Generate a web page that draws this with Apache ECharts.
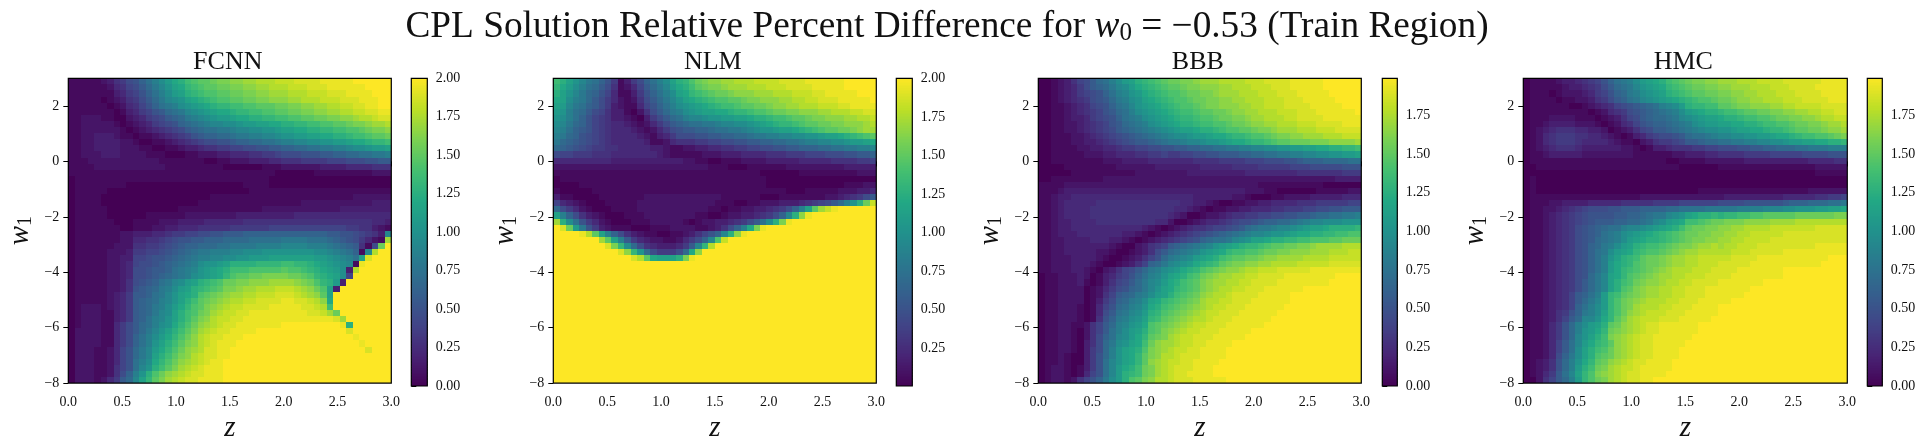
<!DOCTYPE html>
<html><head><meta charset="utf-8">
<style>html,body{margin:0;padding:0;background:#fff}#c{width:1926px;height:448px}</style>
<script src="https://cdn.jsdelivr.net/npm/echarts@6/dist/echarts.min.js"></script>
</head><body><div id="c"></div>
<script>
// Each character is one read-off cell: 0-9a-z maps to 0..2 in steps of 2/35. Row 0 is the top of the panel.
const panelNames = ['FCNN', 'NLM', 'BBB', 'HMC'];
const zTicks = [0, 0.5, 1, 1.5, 2, 2.5, 3];
const w1Ticks = [-8, -6, -4, -2, 0, 2];
const cbTicksA = [0, 0.25, 0.5, 0.75, 1, 1.25, 1.5, 1.75, 2];
const cbTicksB = [0.25, 0.5, 0.75, 1, 1.25, 1.5, 1.75, 2];
const cbTicksC = [0, 0.25, 0.5, 0.75, 1, 1.25, 1.5, 1.75];
const cbRanges = [[0, 2], [0.004, 2], [0, 1.99], [0, 1.99]];

const fcnnRows = [
"1111123568 9bdfhjlmop qqrssttuuv vvwwwxxxxy yyyyzzzzzz",
"1111112457 8acegiklno pqqrrssttu uvvvwwwxxx yyyyyyzzzz",
"1111111346 79bdfhjkmn oppqqrrsst tuuuvvvwww xxxyyyyzzz",
"1111101235 68aceghikl mnoppqqrrs stttuuvvvw wwxxxyyyzz",
"1111110124 579bdefhij klmnnooppq qqrrssttuu vvwwxxyyzz",
"1111111013 4679acdegh ijkllmnnoo ppqqrrsstt uuvvwwxxyy",
"1122211002 34678abcef ghijjkllmm nnooppqqrr ssttuvvwxx",
"1122222101 2346789bcd efgghhijjk kllmmnnoop pqqrsstuuv",
"1122222210 12345678ab cddeefgghh iijkkllmmn nooppqrsst",
"1122333211 0112345679 abbccdeeff gghiijjkkl lmmnoopqqr",
"1122333322 1001123456 78899abbcc ddeffgghhi ijjkllmnno",
"1122333322 2110011233 4556677889 9aabbccdde effghhijjk",
"1122233322 2211100011 2223344455 667888999a abbccddeef",
"1112222222 2222111111 1001122233 3445556666 77788899aa",
"1111222222 2222211111 1111000000 1112222223 3334444555",
"1111111111 1111111111 1111111111 1100000011 1111111222",
"0111111111 1111111111 1111111111 1000000000 0000000000",
"0111111110 0000000000 0000000111 1000000000 0000000000",
"0111110000 0000000000 0000000011 1111111111 1111111111",
"0111100000 0000000000 0011111111 1111111111 1111222222",
"0111100000 0000000000 1111111111 1111112222 2222222333",
"0111110000 0000000111 1111111111 2222222222 2233333333",
"0111110000 0011111122 2222223333 3333344444 4444444444",
"0111111000 1111222333 3444444555 5555555555 5555555443",
"0111111100 1112233444 5555566666 6777777777 7776655321",
"0111111122 3334456677 8899aaabbb bbbbbbbbbb aa9987653g",
"0111111122 445567899a abbbccccdd dddeeeeddd cba986421u",
"0111111222 5566789abb cccddeeeef fffggggfff edcba518rz",
"0111112223 667789abcd eefffgghhh iiiiiiiihh gfedb1gvzz",
"0111112233 77899abcde ffgghhiijj jkkkkkkkjj ihgfdkxzzz",
"0111112234 7889abcdef hiijkmmmmn nnnoonnmlk jihg1yzzzz",
"0111112234 889aabdefg ijklmooopp pppqpponml kjh3vzzzzz",
"0111112234 889abcdefh ijklnpqqrr ssssrrqpnm lkh7zzzzzz",
"0111112235 89abdeghjk mnoprrsstt tuuuutsrpn mj3zzzzzzz",
"0111112235 9abcefhjkm nopqsstuuv vvwwwvutrp k3zzzzzzzz",
"0111112346 aabdegiklm pqrstuuvvw wwxxxwvutq kzzzzzzzzz",
"0111112346 abcdfgikmo qrstuvvwwx xxxyyxxwvt lzzzzzzzzz",
"0122212346 abcefhjlnp qstuvwwxxx xyyyyyxxwv ozzzzzzzzz",
"0122211346 abceghkmop rsuvwwxxyy yyyyyyyxxw urzzzzzzzz",
"0122211346 abdfgikmoq stvwwxxyyy yyyyyyyyyy yxuzzzzzzz",
"0122211468 acdfhilnpr tuvwxxyyyy yyyzzzzzzz zzymzzzzzz",
"0222211468 acegikmoqs uvwxxyyyyz zzzzzzzzzz zzzxzzzzzz",
"0222211468 bdfhjlnprt vwxxyyyzzz zzzzzzzzzz zzzzyzzzzz",
"0222211468 bdfikmoqst vwxyyyzzzz zzzzzzzzzz zzzzzyzzzz",
"0222112479 cegjlnprtu vxxyyzzzzz zzzzzzzzzz zzzzzzxzzz",
"0222112479 cegkmoqstv wxxyyzzzzz zzzzzzzzzz zzzzzzzzzz",
"0222112479 dfhlnprtuv wxyyzzzzzz zzzzzzzzzz zzzzzzzzzz",
"0222112579 dgimoqsuvw xyyyzzzzzz zzzzzzzzzz zzzzzzzzzz",
"022211258b fimprtuvwx xyyyzzzzzz zzzzzzzzzz zzzzzzzzzz",
"02221246ac gknqsuvwxx yyyyzzzzzz zzzzzzzzzz zzzzzzzzzz"
];

const nlmRows = [
"omkigedb96 1368bdfhkm nprsttuuvv vwwwwxxxxy yyyyyzzzzz",
"nljhfdca85 1247acegjl moqrsstuuu vvvwwwxxxx yyyyyzzzzz",
"mkigecb974 11369bdfhk lnopqrrstt tuuuvvvwww xxyyyyyzzz",
"lkhfeca864 21258acegi klmnoppqqr sstttuuvvw wxxxyyyyyz",
"kjgedba863 211479bdfh ijklmnoopq qrrsttuuvv vwwwxxyyyy",
"jifdca8753 310258acef hijkkllmnn oppqrrsstt tuuvvvwwxx",
"ihfdb97653 3210368acd fgghiijjkk lmmnoopqqr sstttuuvvw",
"hgecb97654 43212468ab cddeefgghh ijklmnnopq qrrsstttuv",
"gfdba97654 4432124689 aabbcddeef ghiijkklmn opqqrrstuu",
"fecb987654 4443213468 8899aabbcc deeffgghhi ijkklmnopq",
"ecba987654 4444311245 5566778899 aabbccddef fgghhijjkl",
"cba9876655 4444433211 2233445566 778899aabb bccddeeffg",
"8776665554 4444443211 1112223334 4445556667 7788899aab",
"4444444443 3333333333 2211001112 2223333344 4445555667",
"2222222222 2222222222 2222111000 1111112222 2222233333",
"1111111111 1111111111 1111111111 1100000011 1111111222",
"0111111111 1111111111 1111111111 1110000000 0000000000",
"0000111111 1111111111 1111111111 1110000000 0000011122",
"1000001111 1111111111 1111111111 1111110001 1111222334",
"3110000111 1111222222 2222221111 1100011111 112234568a",
"7432100011 1112222222 2222211100 1122233345 678acfimrw",
"c864210001 1112222222 2222110112 2334568bfk quwyzzzzzz",
"kfb8532100 0111222222 2211001223 34568bgmty zzzzzzzzzz",
"umhd964210 0011122222 1012233456 8adhmsyzzz zzzzzzzzzz",
"zxrje96321 1100011122 22112358bf lsyzzzzzzz zzzzzzzzzz",
"zzzzyvqkfb 8532110011 23579bgmty zzzzzzzzzz zzzzzzzzzz",
"zzzzzzzuqk fa64322112 468bgpwzzz zzzzzzzzzz zzzzzzzzzz",
"zzzzzzzzxs nhc8543334 6agnvzzzzz zzzzzzzzzz zzzzzzzzzz",
"zzzzzzzzzz xtnic86668 cltzzzzzzz zzzzzzzzzz zzzzzzzzzz",
"zzzzzzzzzz zzxvqlkkkm syzzzzzzzz zzzzzzzzzz zzzzzzzzzz",
"zzzzzzzzzz zzzzzzzzzz zzzzzzzzzz zzzzzzzzzz zzzzzzzzzz",
"zzzzzzzzzz zzzzzzzzzz zzzzzzzzzz zzzzzzzzzz zzzzzzzzzz",
"zzzzzzzzzz zzzzzzzzzz zzzzzzzzzz zzzzzzzzzz zzzzzzzzzz",
"zzzzzzzzzz zzzzzzzzzz zzzzzzzzzz zzzzzzzzzz zzzzzzzzzz",
"zzzzzzzzzz zzzzzzzzzz zzzzzzzzzz zzzzzzzzzz zzzzzzzzzz",
"zzzzzzzzzz zzzzzzzzzz zzzzzzzzzz zzzzzzzzzz zzzzzzzzzz",
"zzzzzzzzzz zzzzzzzzzz zzzzzzzzzz zzzzzzzzzz zzzzzzzzzz",
"zzzzzzzzzz zzzzzzzzzz zzzzzzzzzz zzzzzzzzzz zzzzzzzzzz",
"zzzzzzzzzz zzzzzzzzzz zzzzzzzzzz zzzzzzzzzz zzzzzzzzzz",
"zzzzzzzzzz zzzzzzzzzz zzzzzzzzzz zzzzzzzzzz zzzzzzzzzz",
"zzzzzzzzzz zzzzzzzzzz zzzzzzzzzz zzzzzzzzzz zzzzzzzzzz",
"zzzzzzzzzz zzzzzzzzzz zzzzzzzzzz zzzzzzzzzz zzzzzzzzzz",
"zzzzzzzzzz zzzzzzzzzz zzzzzzzzzz zzzzzzzzzz zzzzzzzzzz",
"zzzzzzzzzz zzzzzzzzzz zzzzzzzzzz zzzzzzzzzz zzzzzzzzzz",
"zzzzzzzzzz zzzzzzzzzz zzzzzzzzzz zzzzzzzzzz zzzzzzzzzz",
"zzzzzzzzzz zzzzzzzzzz zzzzzzzzzz zzzzzzzzzz zzzzzzzzzz",
"zzzzzzzzzz zzzzzzzzzz zzzzzzzzzz zzzzzzzzzz zzzzzzzzzz",
"zzzzzzzzzz zzzzzzzzzz zzzzzzzzzz zzzzzzzzzz zzzzzzzzzz",
"zzzzzzzzzz zzzzzzzzzz zzzzzzzzzz zzzzzzzzzz zzzzzzzzzz",
"zzzzzzzzzz zzzzzzzzzz zzzzzzzzzz zzzzzzzzzz zzzzzzzzzz"
];

const bbbRows = [
"00123578ac dfhjkmnopq rrsstuuuvv vvwwwxxxxy yyyyzzzzzz",
"00123468ab ceghjlmnop qqrsstttuu vvvwwwxxxy yyyyzzzzzz",
"0012346789 bdfgijlmno ppqrrsstuu uvvvwwwxxx yyyyyzzzzz",
"0012345689 acefhiklmn oppqrrsstt uuvvvwwwxx xyyyyyzzzz",
"0011234578 9bdegijklm noppqrsstt tuuvvwwwxx xxyyyyyzzz",
"0011234567 9acdfhijkl mnoopqqrrs ttuuvvvwww xxxyyyyyyz",
"0011233467 89bdefhijk lmnnoppqrr sstuuvvvww xxxxyyyyyy",
"0011223456 79acdefhij klmmnooppq rrsttuuvvv wwwxxxxyyy",
"0011223456 78abcdefgh ijkklmmnop pqqrsstuuu vvvwwwxxxx",
"0011122345 6789abcdef ghhijjkllm nnoppqrsst tuuuvvvwww",
"0011122334 56789aabcd eefgghiijk llmnnopqqr rrsssttttu",
"0011112233 4456677889 9aabbccdde effgghhiij jkkllmmnno",
"0011111222 3344455667 66778899aa abbccddeef fgghhiijjk",
"0011111111 2223333444 4444555566 6677788899 abbbccccdd",
"0000111111 1122222233 3333344444 5555666667 7788888999",
"0000011111 1111122222 2223333333 3344444444 5555555666",
"0011111111 2222222222 2222222222 2222222222 2222223333",
"1111222222 2222222222 2222222222 2222111111 1111000000",
"1112333333 3333333333 3333333333 3322211000 0001111122",
"1123344444 4444444444 4444333333 2210001122 2233333444",
"1123444445 5555555555 5544332100 1122334444 5556666677",
"1123444455 5555555555 5443210112 2334445566 6778899aaa",
"1123444455 5555555555 4320012234 5566778899 aabccddeef",
"1123344445 5555555544 2001234456 7889abbccd efgghhhiii",
"1123344444 4444443210 1234556778 9acdeefggh ijkklmmmmn",
"1123334444 4443321012 3456789abc defgghiijk llmmnnoopp",
"1122333344 4332101234 56789bcdde ghikklmmnn oopppqqrrr",
"1122333333 3210023567 abcdefgijk lmnnopqqrr sstuuuuvvv",
"1122333332 210012358a cdefgijkln ooppqrrsst ttuuuvvvww",
"1122233332 100123579c efghjklmop qqrrsttuuu uvvvvwwwww",
"1122233321 0012357bce ghijlmnoqr ssttuuvvvv wwwwwxxxxx",
"1122233210 23578acefh ijlmnpqrst tuvvwwwxxx xxyyyyyyyy",
"0112223201 34679bdfgi klmoprstuu vvwwxxxxyy yyyyyyzzzz",
"0112223101 3578aceghj lmopqstuuv vwwxxxxyyy yyyyyzzzzz",
"0112222012 4689bcegik lnopqstuvv wwxxxyyyyy yzzzzzzzzz",
"0112222012 57abcefhjk mopqrtuvvw xxxxyyyyyz zzzzzzzzzz",
"0112222013 68bcefhkln opqrsuvvww xxxyyyyyyz zzzzzzzzzz",
"0112221014 79cdfgilmo pqrstuvwwx xxyyyyyyzz zzzzzzzzzz",
"0112221014 8adeghjmnp qrstuvwwxx xyyyyyyzzz zzzzzzzzzz",
"0112221015 9befhiknoq rstuvvwxxx yyyyyyzzzz zzzzzzzzzz",
"0112211257 acfgijlpqr stuvwwxxxy yyyyyzzzzz zzzzzzzzzz",
"0112210257 adfhjkmpqs tuvwwxxxyy yyyzzzzzzz zzzzzzzzzz",
"0112210258 bdghjlnqrs uvwwxxxyyy yyzzzzzzzz zzzzzzzzzz",
"0112210358 cehiklortu uvwwxxyyyy zzzzzzzzzz zzzzzzzzzz",
"0112210368 cfiklmpstu vwwxxyyyyz zzzzzzzzzz zzzzzzzzzz",
"0112100369 cfiklnqstv vwxxxyyyyz zzzzzzzzzz zzzzzzzzzz",
"0112100369 dgiklnqtuv wwxxyyyyzz zzzzzzzzzz zzzzzzzzzz",
"0122101369 dgjlmorsuv wxxxyyyzzz zzzzzzzzzz zzzzzzzzzz",
"0122101479 dgjmnorsuv wxxyyyyzzz zzzzzzzzzz zzzzzzzzzz",
"012212579b ehjmpqstvv wxxxyyyyyz zzzzzzzzzz zzzzzzzzzz"
];

const hmcRows = [
"0111123345 679bdefhjk lmopqrsstt uuuvvvwwww xxxxxxyyyy",
"0111112334 568acdegij klnopqrrss ttuuuvvvww wxxxxyyyyy",
"0111012223 4679bcefhi jkmnopqqrr ssttuuvvvw wwxxxxyyyy",
"0111101122 3568abdegh ijklmnoppq rrsttuuvvv wwwxxxxyyy",
"0111111001 2345789abc dfghjmnnoo qqrsstttuu vvwwwwxxxx",
"0111111111 01245689ab cdefhjklmm noopqqrrss ttuuvvwwxx",
"0111222211 10123578ab ccdeghijkk lmmnooppqr rssttuvvww",
"0112333322 210124579a bbcdefhijj kkllmmnoop pqrrsstuuv",
"0123455544 3320123578 aabcdefghh iijkkllmnn opqqrrsttu",
"0124566655 4432101346 7889acddef gghhiijjkl lmnooppqrs",
"0124566654 4443211023 56678aabcc ddeeffgghh ijjkkllmmn",
"0123455543 3333322101 3345556677 88899aabbc ccddeeefff",
"0112333332 2222222111 1112233344 5555666677 7778888999",
"0111111111 1111111111 1100111122 2222333333 3333444455",
"0011111111 1111111111 1111000000 1111111111 1111122222",
"0000000000 0000000000 0000000000 0000000000 0000011111",
"0100000000 0000000000 0000000000 0000000000 0000000000",
"0100000000 0000000000 0000000000 0000000000 0000000000",
"0100000000 0000000000 0000000111 1111111111 1111222222",
"0111111111 1111111122 2222222222 2333333333 4444455667",
"0111223333 4444455555 6666777777 8888999999 abbbcccdde",
"0112234567 88899aaabb bbccddddee eeeffffggg hhiiijjkkl",
"0112345678 9999aabbcd eeghiklmmn mnnooppqqq qqrrrrrrss",
"0112345678 9aaabbccde ghjkloopqr rsssttttuu uuvvvvvvvv",
"0112345689 abcddfgghi jklmoqrrss ttuuvvvvww wwwwwxxxxx",
"0112345689 abdefhijkl mnopqrrsst tuuvvwwwww xxxxxxxxxx",
"0112345689 acdefhjklm mnopqrsstt uuvvwwwwxx xxxxxxxxxx",
"0112345689 bcefhjkmno opqrsstuuv uvvwwwxxxx xxxxxyyyyy",
"0112345689 bdehjklnop pqrstuuvvv vvwwwxxxxx yyyyyyyyyy",
"0112345689 bdfikmnoqr rstuuvvwww wwxxxxyyyy yyyyyyyzzz",
"0112345689 bdfjlmnpqr rstuuvvwww xxxxxyyyyy yyyyyyzzzz",
"0112345689 bdfjlnopqr stuvvvwwwx xxxyyyyyyy zzzzzzzzzz",
"0112345689 cegklnpqrs tuuvvwwwxx xxyyyyyyyy zzzzzzzzzz",
"011234568a cegkmoprst tuvvwwxxxx yyyyyyyzzz zzzzzzzzzz",
"011234568a cegkmpqstu uvvwwxxxyy yyyyyzzzzz zzzzzzzzzz",
"01123457ab dfjnoqrstu uvvwwxxxyy yyyyzzzzzz zzzzzzzzzz",
"01123457ac egjnprstuv vvwwxxxyyy yyzzzzzzzz zzzzzzzzzz",
"01123457bd fhjnprsuvv vwwxxxyyyy zzzzzzzzzz zzzzzzzzzz",
"01123569be fhknprtuvw wwxxxyyyyy zzzzzzzzzz zzzzzzzzzz",
"0112357acg gilnqsuvww wxxxyyyyyz zzzzzzzzzz zzzzzzzzzz",
"0112469cfh jkmqrtuvwx xyyyyyyzzz zzzzzzzzzz zzzzzzzzzz",
"0112469cfi jlnrstuvwx xyyyyyyzzz zzzzzzzzzz zzzzzzzzzz",
"0112469cgi kmostuvwxx yyyyyyzzzz zzzzzzzzzz zzzzzzzzzz",
"011247adgj lnoqtuvwxx yyyyyzzzzz zzzzzzzzzz zzzzzzzzzz",
"011247adhk moprtuvwxx yyyyzzzzzz zzzzzzzzzz zzzzzzzzzz",
"011248behk mpqrtuvwxx yyyyzzzzzz zzzzzzzzzz zzzzzzzzzz",
"012359cfil nqrtuvwxxy yyyzzzzzzz zzzzzzzzzz zzzzzzzzzz",
"012359cfjm orsuvwwxyy yyyzzzzzzz zzzzzzzzzz zzzzzzzzzz",
"01246adgkn pstuvwxxyy yyzzzzzzzz zzzzzzzzzz zzzzzzzzzz",
"00257acfjn prsuvwxxyy zzzzzzzzzz zzzzzzzzzz zzzzzzzzzz"
];

const panelRows = [fcnnRows, nlmRows, bbbRows, hmcRows];
const cbTickSets = [cbTicksA, cbTicksB, cbTicksC, cbTicksC];

const viridis = ['#440154','#482475','#414487','#355f8d','#2a788e','#21918c','#22a884','#44bf70','#7ad151','#bddf26','#fde725'];
const hex = s => [1,3,5].map(i => parseInt(s.substr(i,2),16));
function colorAt(t){
  t = Math.max(0, Math.min(1, t));
  const p = t*(viridis.length-1), i = Math.min(Math.floor(p), viridis.length-2), f = p-i;
  const a = hex(viridis[i]), b = hex(viridis[i+1]);
  return 'rgb(' + a.map((v,k)=>Math.round(v+(b[k]-v)*f)).join(',') + ')';
}

const serif = '"Liberation Serif","DejaVu Serif",serif';
const lefts = [68.3, 553.3, 1038.3, 1523.3];
const widths = [323, 323, 323, 324];
const cbLefts = [411.3, 896.3, 1382.3, 1867.3];
const cbWidths = [16, 16, 15, 15];
const gridTop = 78.3, gridHeight = 307.7;

const NX = 50, NY = 50, dz = 3/NX, dw = 11/NY;
const chars = '0123456789abcdefghijklmnopqrstuvwxyz';
function decode(rows){
  const out = [];
  rows.forEach((r,i) => {
    const s = r.replace(/ /g,'');
    for (let j=0;j<NX;j++){
      const c = chars.indexOf(s[j] || s[s.length-1]);
      out.push([j*dz, 3-(i+1)*dw, c/35*2]);
    }
  });
  return out;
}
function cellItem(params, api){
  const x0 = api.value(0), y0 = api.value(1);
  const a = api.coord([x0, y0+dw]), b = api.coord([x0+dz, y0]);
  const l = Math.round(a[0]), t = Math.round(a[1]), r = Math.round(b[0]), d = Math.round(b[1]);
  return {type:'rect', shape:{x:l,y:t,width:r-l,height:d-t}, style:{fill:colorAt(api.value(2)/2)}};
}
const grid=[], xAxis=[], yAxis=[], series=[], title=[];
title.push({
  left:947, top:9, textAlign:'center', padding:0,
  text:'{r|CPL Solution Relative Percent Difference for }{i|w}{s|0}{r| = −0.53 (Train Region)}',
  textStyle:{fontWeight:'normal',rich:{
    r:{fontFamily:serif,fontSize:37.3,fontWeight:'normal',color:'#111'},
    i:{fontFamily:serif,fontSize:37.3,fontWeight:'normal',fontStyle:'italic',color:'#111'},
    s:{fontFamily:serif,fontSize:25,fontWeight:'normal',color:'#111',padding:[12,0,0,0]}
  }}
});
panelNames.forEach((name,p) => {
  title.push({left:lefts[p]+widths[p]/2-2, top:49, textAlign:'center', padding:0, text:name,
    textStyle:{fontFamily:serif,fontSize:26,fontWeight:'normal',color:'#111'}});
  const g0 = grid.length;
  grid.push({left:lefts[p],top:gridTop,width:widths[p],height:gridHeight,show:true,borderColor:'#000',borderWidth:1.2,backgroundColor:'transparent',z:10});
  xAxis.push({gridIndex:g0,type:'value',min:0,max:3,splitLine:{show:false},axisLine:{show:false},
    name:'z',nameLocation:'middle',nameGap:29,nameTextStyle:{fontFamily:serif,fontSize:29,fontStyle:'italic',color:'#111'},
    axisTick:{show:true,length:5,lineStyle:{color:'#000',width:1},customValues:zTicks},
    axisLabel:{fontFamily:serif,fontSize:14,color:'#111',margin:12,customValues:zTicks,formatter:v=>Number(v).toFixed(1)}});
  yAxis.push({gridIndex:g0,type:'value',min:-8,max:3,splitLine:{show:false},axisLine:{show:false},
    name:'{w|w}{s|1}',nameLocation:'middle',nameGap:33,
    nameTextStyle:{rich:{w:{fontFamily:serif,fontSize:29,fontStyle:'italic',color:'#111'},s:{fontFamily:serif,fontSize:20,color:'#111',padding:[10,0,0,0]}}},
    axisTick:{show:true,length:5,lineStyle:{color:'#000',width:1},customValues:w1Ticks},
    axisLabel:{fontFamily:serif,fontSize:14,color:'#111',margin:9,customValues:w1Ticks,formatter:v=>String(v).replace('-','−')}});
  series.push({type:'custom',coordinateSystem:'cartesian2d',xAxisIndex:g0,yAxisIndex:g0,z:2,
    progressive:0,animation:false,silent:true,renderItem:cellItem,encode:{x:0,y:1},data:decode(panelRows[p])});

  const g1 = grid.length, rng = cbRanges[p];
  grid.push({left:cbLefts[p],top:gridTop,width:cbWidths[p],height:gridHeight,show:true,borderColor:'#000',borderWidth:1.2,backgroundColor:'transparent',z:10});
  xAxis.push({gridIndex:g1,type:'value',min:0,max:1,show:false});
  yAxis.push({gridIndex:g1,type:'value',position:'right',min:rng[0],max:rng[1],splitLine:{show:false},axisLine:{show:false},
    axisTick:{show:true,length:5,lineStyle:{color:'#000',width:1},customValues:cbTickSets[p]},
    axisLabel:{fontFamily:serif,fontSize:14,color:'#111',margin:8.5,customValues:cbTickSets[p],formatter:v=>Number(v).toFixed(2)}});
  const levels=[]; const steps=200, st=(rng[1]-rng[0])/steps;
  for(let i=0;i<steps;i++) levels.push([0, rng[0]+i*st, st]);
  series.push({type:'custom',coordinateSystem:'cartesian2d',xAxisIndex:g1,yAxisIndex:g1,z:2,
    progressive:0,animation:false,silent:true,encode:{x:0,y:1},data:levels,
    renderItem:(params,api)=>{
      const a=api.coord([0,api.value(1)+api.value(2)]), b=api.coord([1,api.value(1)]);
      return {type:'rect',shape:{x:a[0],y:Math.floor(a[1]),width:b[0]-a[0],height:Math.ceil(b[1])-Math.floor(a[1])},
        style:{fill:colorAt((api.value(1)+api.value(2)/2)/2)}};
    }});
});
const chart = echarts.init(document.getElementById('c'),null,{renderer:'canvas'});
chart.setOption({animation:false,backgroundColor:'#fff',title,grid,xAxis,yAxis,series,tooltip:{show:false}});
</script></body></html>
